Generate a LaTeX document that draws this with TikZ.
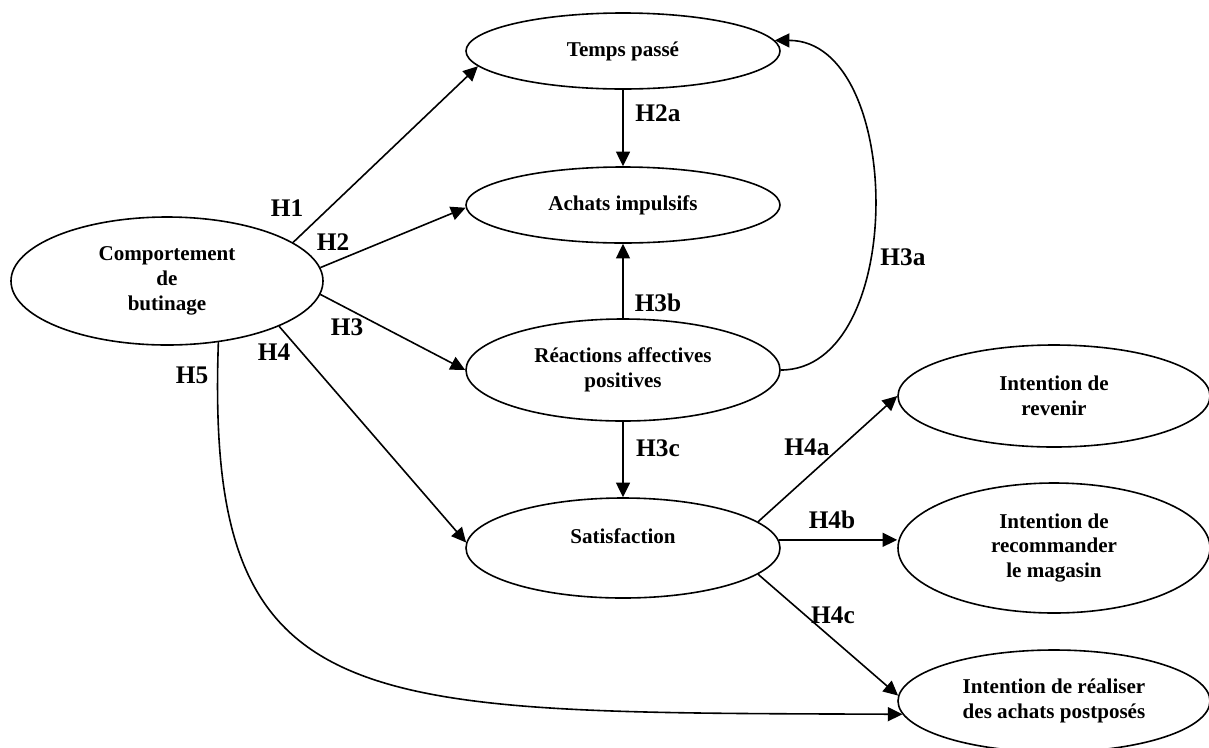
\documentclass[tikz,border=0pt]{standalone}
\usepackage{fontspec}
\setmainfont{Liberation Serif}
\usetikzlibrary{shapes.geometric,arrows.meta}
\tikzset{
  constr/.style={ellipse, draw, line width=1.2pt, inner sep=0pt, align=center,
    font=\bfseries\fontsize{15.8}{18.5}\selectfont},
  hlabel/.style={inner sep=0pt, font=\bfseries\fontsize{19}{22}\selectfont},
  link/.style={line width=1.2pt, -{Triangle[length=11pt, width=10.5pt]}},
}
\begin{document}
\begin{tikzpicture}[x=0.75pt, y=-0.75pt]
\useasboundingbox (0,0) rectangle (1209,747);
% constructs
\node[constr, minimum width=235.5pt, minimum height=57pt] (TP) at (623,51) {Temps passé};
\node[constr, minimum width=235.5pt, minimum height=57pt] (AI) at (623,205) {Achats impulsifs};
\node[constr, minimum width=235.5pt, minimum height=76.5pt] (RA) at (623,370) {Réactions affectives\\positives};
\node[constr, minimum width=235.5pt, minimum height=75pt] (SA) at (623,548) {Satisfaction\\\mbox{}};
\node[constr, minimum width=234pt, minimum height=96pt] (CB) at (167,281) {Comportement\\de\\butinage};
\node[constr, minimum width=234pt, minimum height=76.5pt] (IR) at (1054,396) {Intention de\\revenir};
\node[constr, minimum width=234pt, minimum height=97.5pt] (IM) at (1054,548) {Intention de\\recommander\\le magasin};
\node[constr, minimum width=234pt, minimum height=76.5pt] (IA) at (1054,701) {Intention de réaliser\\des achats postposés};
% connectors
\draw[link] (CB.17) -- (TP.186);
\draw[link] (CB.5) -- (AI.181);
\draw[link] (CB.-5) -- (RA.west);
\draw[link] (CB.-22) -- (SA.178);
\draw[link] (CB.-50) .. controls (205,720) and (350,712) .. (IA.185);
\draw[link] (TP.south) -- (AI.north);
\draw[link] (RA.north) -- (AI.south);
\draw[link] (RA.south) -- (SA.north);
\draw[link] (RA.east) .. controls +(127,0) and +(130,0) .. (TP.4);
\draw[link] (SA.11) -- (IR.west);
\draw[link] (SA.3) -- (SA.3 -| IM.west);
\draw[link] (SA.-11) -- (IA.178);
% labels
\node[hlabel] (lH1) at (287,208) {H1};
\node[hlabel] (lH2) at (333,242) {H2};
\node[hlabel] (lH3) at (347,327) {H3};
\node[hlabel] (lH4) at (274,352) {H4};
\node[hlabel] (lH5) at (192,375) {H5};
\node[hlabel] (lH2a) at (658,113) {H2a};
\node[hlabel] (lH3b) at (658,303) {H3b};
\node[hlabel] (lH3c) at (658,448) {H3c};
\node[hlabel] (lH3a) at (903,257) {H3a};
\node[hlabel] (lH4a) at (807,447) {H4a};
\node[hlabel] (lH4b) at (832,520) {H4b};
\node[hlabel] (lH4c) at (833,615) {H4c};
\end{tikzpicture}
\end{document}
